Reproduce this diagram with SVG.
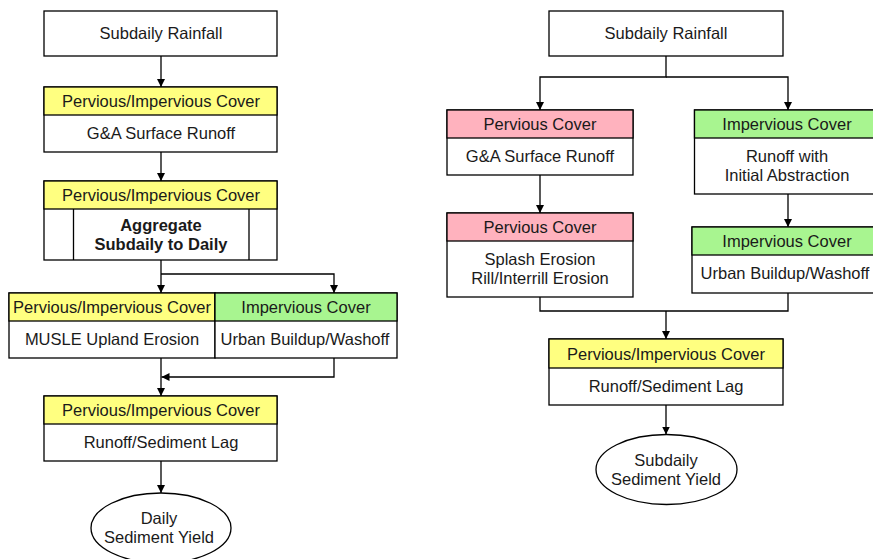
<svg xmlns="http://www.w3.org/2000/svg" width="873" height="559" viewBox="0 0 873 559">
<style>
.box{fill:#fff;stroke:#000;stroke-width:1.3}
.y{fill:#FFFF80;stroke:#000;stroke-width:1.3}
.p{fill:#FFB2BE;stroke:#000;stroke-width:1.3}
.g{fill:#A8F590;stroke:#000;stroke-width:1.3}
.ln{fill:none;stroke:#000;stroke-width:1.3}
text{font-family:"Liberation Sans",Arial,sans-serif;font-size:16.5px;fill:#1a1a1a;text-anchor:middle}
.b{font-weight:bold}
</style>
<defs>
<marker id="ah" viewBox="0 0 10 10" refX="10" refY="5" markerWidth="8" markerHeight="8" markerUnits="userSpaceOnUse" orient="auto">
<path d="M0,0 L10,5 L0,10 z" fill="#000"/>
</marker>
</defs>
<rect width="873" height="559" fill="#fff"/>

<g id="connectors">
<path class="ln" d="M161,56 V87" marker-end="url(#ah)"/>
<path class="ln" d="M161,152 V181" marker-end="url(#ah)"/>
<path class="ln" d="M161,260 V293" marker-end="url(#ah)"/>
<path class="ln" d="M161,274 H334 V293" marker-end="url(#ah)"/>
<path class="ln" d="M161,358 V396" marker-end="url(#ah)"/>
<path class="ln" d="M334,358 V377 H161.5" marker-end="url(#ah)"/>
<path class="ln" d="M161,461 V493" marker-end="url(#ah)"/>

<path class="ln" d="M666,56 V77 H540 V110" marker-end="url(#ah)"/>
<path class="ln" d="M666,77 H788 V110" marker-end="url(#ah)"/>
<path class="ln" d="M540,175 V213" marker-end="url(#ah)"/>
<path class="ln" d="M788,194 V227" marker-end="url(#ah)"/>
<path class="ln" d="M540,297 V311 H788 V293"/>
<path class="ln" d="M666,311 V339" marker-end="url(#ah)"/>
<path class="ln" d="M666,405 V434.5" marker-end="url(#ah)"/>
</g>

<g id="L1">
<rect class="box" x="44" y="11" width="233" height="45"/>
<text x="161" y="39">Subdaily Rainfall</text>
</g>
<g id="L2">
<rect class="box" x="44" y="87" width="233" height="65"/>
<rect class="y" x="44" y="87" width="233" height="28"/>
<text x="161" y="107">Pervious/Impervious Cover</text>
<text x="161" y="139">G&amp;A Surface Runoff</text>
</g>
<g id="L3">
<rect class="box" x="44" y="181" width="233" height="79"/>
<rect class="y" x="44" y="181" width="233" height="28"/>
<path class="ln" d="M73.5,209 V260 M249,209 V260"/>
<text x="161" y="201">Pervious/Impervious Cover</text>
<text class="b" x="161" y="231">Aggregate</text>
<text class="b" x="161" y="250">Subdaily to Daily</text>
</g>
<g id="L4">
<rect class="box" x="9" y="293" width="206" height="65"/>
<rect class="y" x="9" y="293" width="206" height="28"/>
<text x="112" y="313">Pervious/Impervious Cover</text>
<text x="112" y="345">MUSLE Upland Erosion</text>
</g>
<g id="L5">
<rect class="box" x="215" y="293" width="182" height="65"/>
<rect class="g" x="215" y="293" width="182" height="28"/>
<text x="306" y="313">Impervious Cover</text>
<text x="305" y="345">Urban Buildup/Washoff</text>
</g>
<g id="L6">
<rect class="box" x="44" y="396" width="233" height="65"/>
<rect class="y" x="44" y="396" width="233" height="28"/>
<text x="161" y="416">Pervious/Impervious Cover</text>
<text x="161" y="448">Runoff/Sediment Lag</text>
</g>
<g id="L7">
<ellipse class="box" cx="161" cy="528" rx="70" ry="35"/>
<text x="159" y="524">Daily</text>
<text x="159" y="543">Sediment Yield</text>
</g>

<g id="R1">
<rect class="box" x="549" y="11" width="234" height="45"/>
<text x="666" y="39">Subdaily Rainfall</text>
</g>
<g id="R2">
<rect class="box" x="447" y="110" width="186" height="65"/>
<rect class="p" x="447" y="110" width="186" height="28"/>
<text x="540" y="130">Pervious Cover</text>
<text x="540" y="162">G&amp;A Surface Runoff</text>
</g>
<g id="R3">
<rect class="box" x="447" y="213" width="186" height="84"/>
<rect class="p" x="447" y="213" width="186" height="28"/>
<text x="540" y="233">Pervious Cover</text>
<text x="540" y="265">Splash Erosion</text>
<text x="540" y="284">Rill/Interrill Erosion</text>
</g>
<g id="R4">
<rect class="box" x="694.5" y="110" width="190" height="84"/>
<rect class="g" x="694.5" y="110" width="190" height="28"/>
<text x="787" y="130">Impervious Cover</text>
<text x="787" y="162">Runoff with</text>
<text x="787" y="181">Initial Abstraction</text>
</g>
<g id="R5">
<rect class="box" x="692" y="227" width="192" height="66"/>
<rect class="g" x="692" y="227" width="192" height="28"/>
<text x="787" y="247">Impervious Cover</text>
<text x="785" y="279">Urban Buildup/Washoff</text>
</g>
<g id="R6">
<rect class="box" x="549" y="339" width="234" height="66"/>
<rect class="y" x="549" y="339" width="234" height="29"/>
<text x="666" y="360">Pervious/Impervious Cover</text>
<text x="666" y="392">Runoff/Sediment Lag</text>
</g>
<g id="R7">
<ellipse class="box" cx="666.5" cy="469.5" rx="70.5" ry="35"/>
<text x="666" y="466">Subdaily</text>
<text x="666" y="485">Sediment Yield</text>
</g>
</svg>
